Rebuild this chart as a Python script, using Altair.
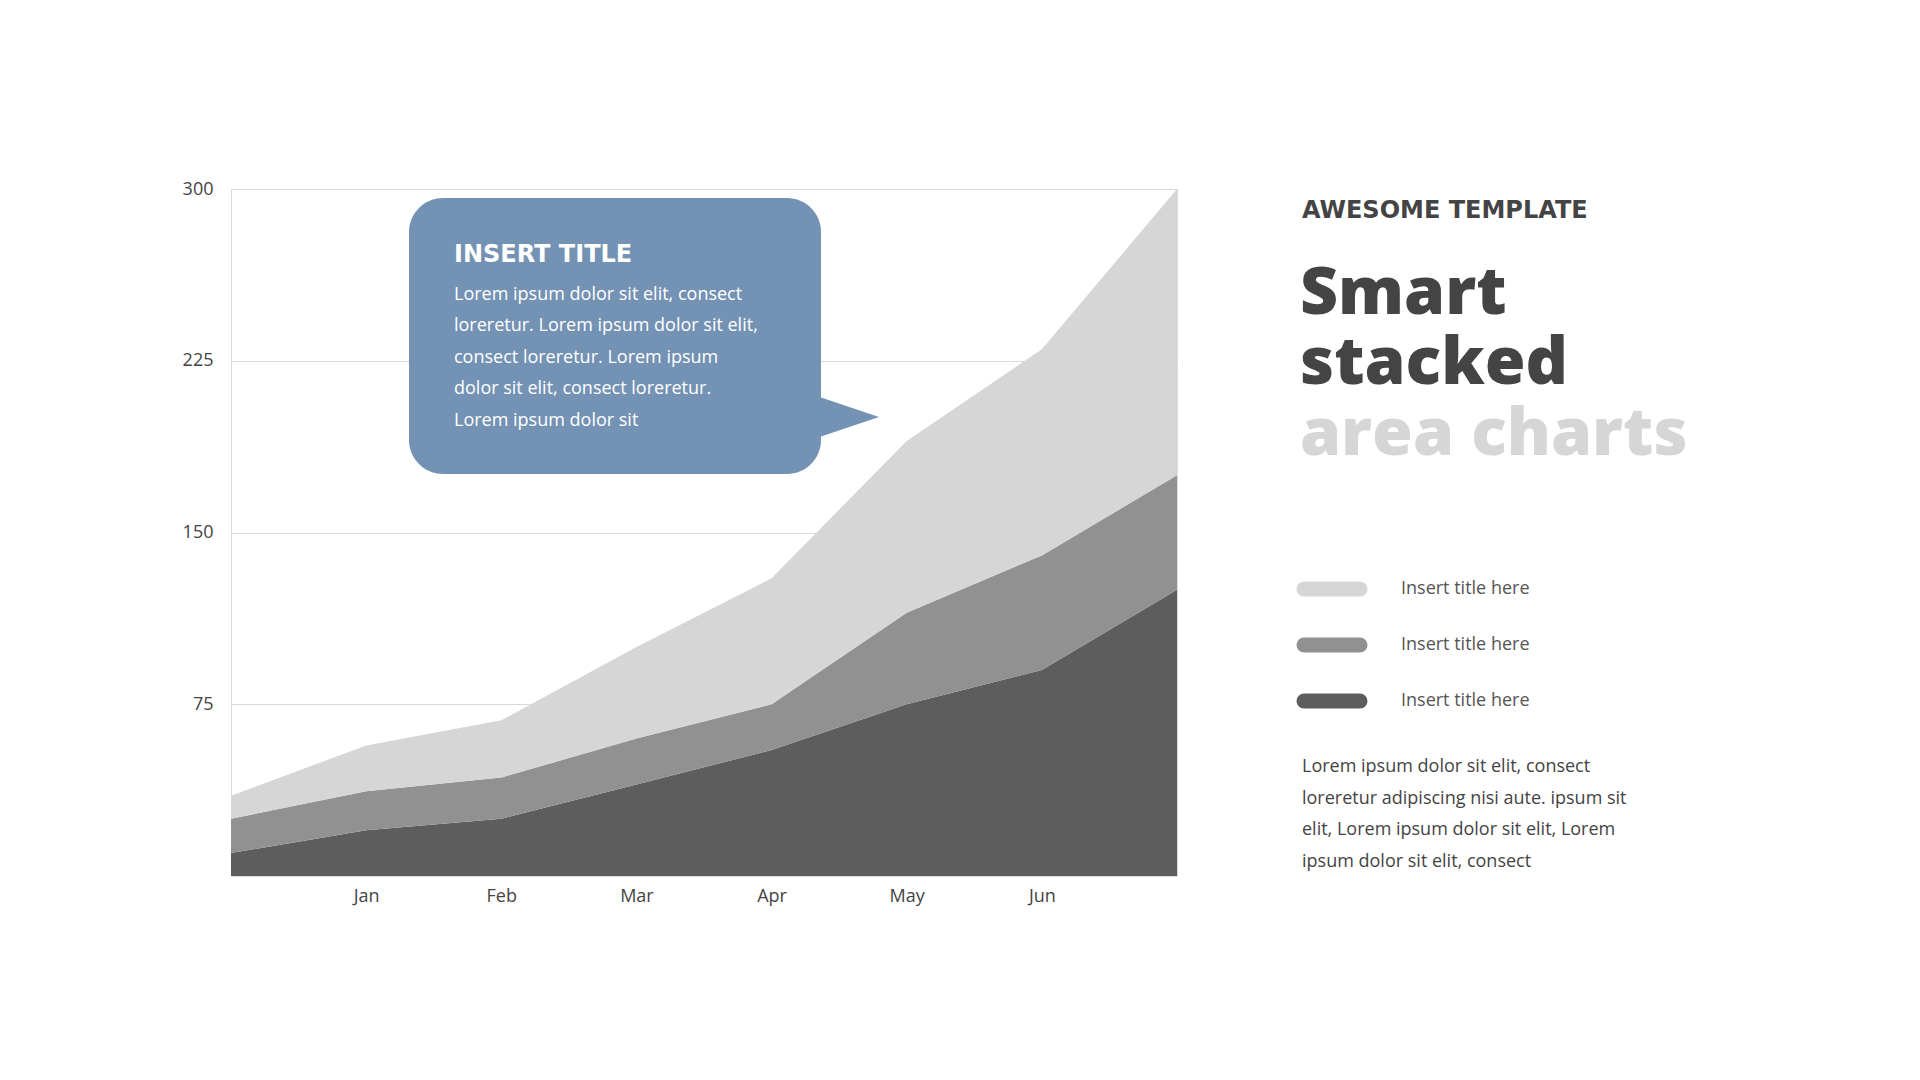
import altair as alt
import pandas as pd

# ---- data ----
idx = [0, 1, 2, 3, 4, 5, 6, 7]
tick_labels = ["", "Jan", "Feb", "Mar", "Apr", "May", "Jun", ""]
series_names = ["Series 1", "Series 2", "Series 3"]
series_dark = [10, 20, 25, 40, 55, 75, 90, 125]
series_mid = [15, 17, 18, 20, 20, 40, 50, 50]
series_light = [10, 20, 25, 40, 55, 75, 90, 125]
colors = ["#5d5d5d", "#919191", "#d6d6d6"]
legend_labels = ["Insert title here", "Insert title here", "Insert title here"]
y_ticks = [75, 150, 225, 300]

callout_title = "INSERT TITLE"
callout_lines = [
    "Lorem ipsum dolor sit elit, consect",
    "loreretur. Lorem ipsum dolor sit elit,",
    "consect loreretur. Lorem ipsum",
    "dolor sit elit, consect loreretur.",
    "Lorem ipsum dolor sit",
]
para_lines = [
    "Lorem ipsum dolor sit elit, consect",
    "loreretur adipiscing nisi aute. ipsum sit",
    "elit, Lorem ipsum dolor sit elit, Lorem",
    "ipsum dolor sit elit, consect",
]

HEAD_FONT = "Open Sans"
CAPS_FONT = "DejaVu Sans"
BODY_FONT = "Open Sans"
AXIS_FONT = "Open Sans"
DARK_TXT = "#444444"

rows = []
for o, (s, vals) in enumerate(zip(series_names, [series_dark, series_mid, series_light])):
    for i, v in zip(idx, vals):
        rows.append({"i": i, "series": s, "value": v, "order": o})
df = pd.DataFrame(rows)

W, H = 946, 687
label_js = "[" + ",".join(f"'{t}'" for t in tick_labels) + "][datum.value]"

area = alt.Chart(df).mark_area(interpolate="linear", opacity=1).encode(
    x=alt.X(
        "i:Q",
        scale=alt.Scale(domain=[0, 7], nice=False, zero=False),
        axis=alt.Axis(values=[1, 2, 3, 4, 5, 6], labelExpr=label_js, title=None,
                      domain=False, ticks=False, grid=False, labelFont=AXIS_FONT,
                      labelFontSize=18, labelColor=DARK_TXT, labelPadding=11),
    ),
    y=alt.Y(
        "value:Q",
        stack="zero",
        scale=alt.Scale(domain=[0, 300], nice=False),
        axis=alt.Axis(values=y_ticks, title=None, domain=False, ticks=False, grid=True,
                      gridColor="#d9d9d9", gridWidth=1, labelFont=AXIS_FONT,
                      labelFontSize=18, labelColor=DARK_TXT, labelPadding=18),
    ),
    color=alt.Color("series:N", scale=alt.Scale(domain=series_names, range=colors), legend=None),
    order=alt.Order("order:Q"),
)

one = pd.DataFrame({"a": [0]})
BOX = "#7492b3"

box = alt.Chart(one).mark_rect(color=BOX, cornerRadius=34).encode(
    x=alt.value(178), x2=alt.value(590), y=alt.value(9), y2=alt.value(285)
)
tri = alt.Chart(one).mark_point(
    shape="M -1.2 -0.74 L 1 0 L -1.2 0.74 Z", filled=True, color=BOX, opacity=1,
    size=3364, strokeWidth=0
).encode(x=alt.value(619), y=alt.value(228))

layers = [area, box, tri]

layers.append(alt.Chart(one).mark_text(
    text=callout_title, font=CAPS_FONT, fontWeight="bold", fontSize=24, color="white",
    align="left", baseline="middle").encode(x=alt.value(223), y=alt.value(66)))

cl = pd.DataFrame({"t": callout_lines, "k": list(range(len(callout_lines)))})
layers.append(alt.Chart(cl).mark_text(
    font=BODY_FONT, fontSize=18, color="white", align="left", baseline="middle"
).encode(x=alt.value(223), y=alt.Y("yy:Q", scale=None), text="t:N").transform_calculate(
    yy="105.5 + datum.k * 31.6"))

TX = 1071
layers.append(alt.Chart(one).mark_text(
    text="AWESOME TEMPLATE", font=CAPS_FONT, fontWeight="bold", fontSize=24, color=DARK_TXT,
    align="left", baseline="alphabetic").encode(x=alt.value(TX), y=alt.value(29)))

for txt, col, yy in [("Smart", DARK_TXT, 125), ("stacked", DARK_TXT, 195), ("area charts", "#d6d6d6", 266)]:
    layers.append(alt.Chart(one).mark_text(
        text=txt, font=HEAD_FONT, fontWeight=800, fontSize=66, color=col,
        align="left", baseline="alphabetic").encode(x=alt.value(TX - 2), y=alt.value(yy)))

leg = pd.DataFrame({"label": legend_labels, "series": series_names[::-1], "k": [0, 1, 2]})
pills = alt.Chart(leg).mark_rule(strokeWidth=15, strokeCap="round").encode(
    x=alt.value(1073), x2=alt.value(1129),
    y=alt.Y("yy:Q", scale=None),
    color=alt.Color("series:N", scale=alt.Scale(domain=series_names, range=colors), legend=None),
).transform_calculate(yy="400 + datum.k * 56")
leg_txt = alt.Chart(leg).mark_text(
    font=BODY_FONT, fontSize=18, color="#555555", align="left", baseline="middle"
).encode(x=alt.value(1170), y=alt.Y("yy:Q", scale=None), text="label:N").transform_calculate(
    yy="400 + datum.k * 56")
layers += [pills, leg_txt]

pl = pd.DataFrame({"t": para_lines, "k": list(range(len(para_lines)))})
layers.append(alt.Chart(pl).mark_text(
    font=BODY_FONT, fontSize=18, color=DARK_TXT, align="left", baseline="middle"
).encode(x=alt.value(TX), y=alt.Y("yy:Q", scale=None), text="t:N").transform_calculate(
    yy="578 + datum.k * 31.7"))

chart = alt.layer(*layers).properties(
    width=W, height=H, autosize="none",
    padding={"left": 223, "top": 181, "right": 700, "bottom": 180},
).configure_view(stroke=None).configure(background="white")

chart.save("out.html", embed_options={"renderer": "svg", "actions": False})
